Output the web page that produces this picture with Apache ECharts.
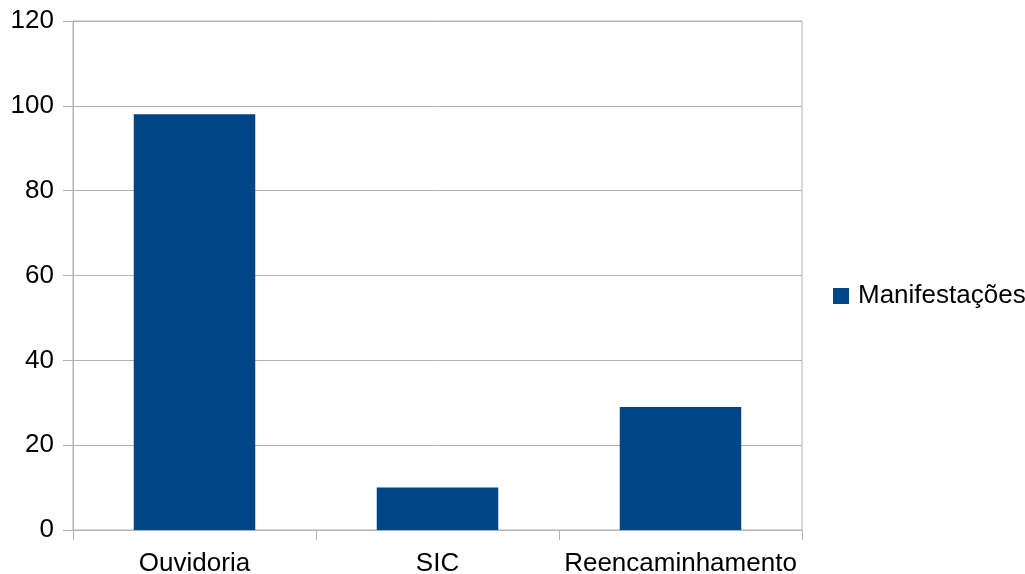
<!DOCTYPE html>
<html>
<head>
<meta charset="utf-8">
<script src="https://cdn.jsdelivr.net/npm/echarts@6/dist/echarts.min.js"></script>
<style>
html,body{margin:0;padding:0;background:#fff;}
#chart{width:1025px;height:574px;}
</style>
</head>
<body>
<div id="chart"></div>
<script>
const categories = ['Ouvidoria', 'SIC', 'Reencaminhamento'];
const seriesName = 'Manifestações';
const values = [98, 10, 29];
const yTicks = [0, 20, 40, 60, 80, 100, 120];

const chart = echarts.init(document.getElementById('chart'));
const font = '"Liberation Sans", Arial, sans-serif';
const gray = '#b3b3b3';
chart.setOption({
  animation: false,
  backgroundColor: '#ffffff',
  textStyle: { fontFamily: font },
  grid: { left: 73, right: 223, top: 21, bottom: 44, containLabel: false, outerBoundsMode: 'none', show: true, borderColor: gray, borderWidth: 1, backgroundColor: 'transparent' },
  legend: {
    data: [seriesName],
    left: 833, top: 283,
    padding: 0,
    itemWidth: 16, itemHeight: 16,
    icon: 'rect',
    textStyle: { fontSize: 26, color: '#000', fontFamily: font, padding: [0, 0, 0, 4] }
  },
  xAxis: {
    type: 'category',
    data: categories,
    axisLine: { show: true, lineStyle: { color: gray } },
    axisTick: { show: true, length: 10, lineStyle: { color: gray } },
    axisLabel: { fontSize: 26, color: '#000', margin: 21, interval: 0, fontFamily: font }
  },
  yAxis: {
    type: 'value',
    min: yTicks[0], max: yTicks[yTicks.length - 1], interval: 20,
    axisLine: { show: true, lineStyle: { color: gray } },
    axisTick: { show: true, length: 10, lineStyle: { color: gray } },
    axisLabel: { fontSize: 26, color: '#000', margin: 19, fontFamily: font },
    splitLine: { show: true, lineStyle: { color: gray } }
  },
  series: [{
    name: seriesName,
    type: 'bar',
    data: values,
    barWidth: '50%',
    itemStyle: { color: '#004586' }
  }]
});
</script>
</body>
</html>
